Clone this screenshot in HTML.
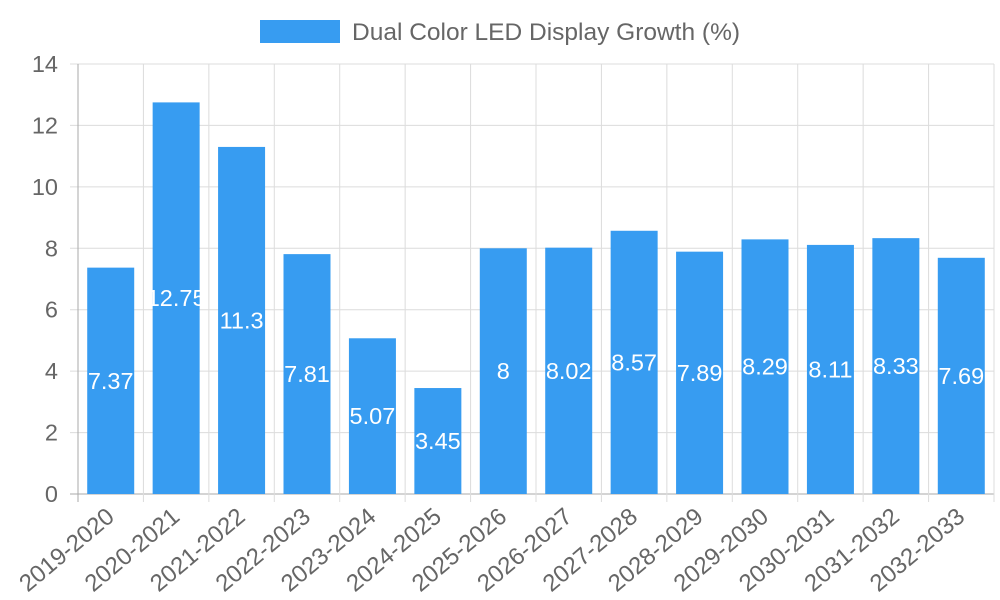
<!DOCTYPE html>
<html><head><meta charset="utf-8"><style>
body{margin:0;background:#fff}
svg{display:block;font-family:"Liberation Sans",sans-serif}
</style></head><body>
<svg id="chart" width="1000" height="600" viewBox="0 0 1000 600" xmlns="http://www.w3.org/2000/svg">
<g>
<rect x="260" y="20" width="80" height="23" fill="#379cf1"/>
<text x="352" y="40" font-size="24.5" fill="#666">Dual Color LED Display Growth (%)</text>
</g>
<g id="grid"></g>
<g id="bars"></g>
<g id="labels"></g>
<g id="axes"></g>
</svg>
<script>
const categories=["2019-2020","2020-2021","2021-2022","2022-2023","2023-2024","2024-2025","2025-2026","2026-2027","2027-2028","2028-2029","2029-2030","2030-2031","2031-2032","2032-2033"];
const values=[7.37,12.75,11.3,7.81,5.07,3.45,8,8.02,8.57,7.89,8.29,8.11,8.33,7.69];
const yTicks=[0,2,4,6,8,10,12,14];
const NS="http://www.w3.org/2000/svg";
const L=78,R=994,T=64,B=494,yMax=14;
const bw=(R-L)/categories.length;
const y=v=>B-(v/yMax)*(B-T);
const x=i=>L+i*bw;
function mk(tag,attrs,parent,txt){const e=document.createElementNS(NS,tag);for(const k in attrs)e.setAttribute(k,attrs[k]);if(txt!==undefined)e.textContent=txt;document.getElementById(parent).appendChild(e);return e;}
yTicks.forEach(t=>{
 const g=mk('line',{x1:L-8,x2:R,y1:y(t),y2:y(t),stroke:t===0?'#aaa':'#dcdcdc','stroke-width':1},'grid');
 
 
 const tl=mk('text',{x:L-20,y:y(t)+8,'text-anchor':'end','font-size':23.5,fill:'#666'},'axes',String(t));
 
 
});
for(let i=0;i<=categories.length;i++){
 const g=mk('line',{x1:x(i),x2:x(i),y1:T,y2:B+8,stroke:i===0?'#aaa':'#dcdcdc','stroke-width':1},'grid');
 
 
}
categories.forEach((c,i)=>{
 const cx=x(i)+bw/2,w=47;
 const r=mk('rect',{x:cx-w/2,y:y(values[i]),width:w,height:B-y(values[i]),fill:'#379cf1'},'bars');
 
 
 const vl=mk('text',{x:cx,y:(y(values[i])+B)/2+8,'text-anchor':'middle','font-size':23.5,fill:'#fff'},'labels',String(values[i]));
 
 
 const xl=mk('text',{x:0,y:0,'text-anchor':'end','font-size':24,fill:'#666',transform:`translate(${cx+5},${B+25}) rotate(-40)`},'axes',c);
 
 
});
</script>
</body></html>
